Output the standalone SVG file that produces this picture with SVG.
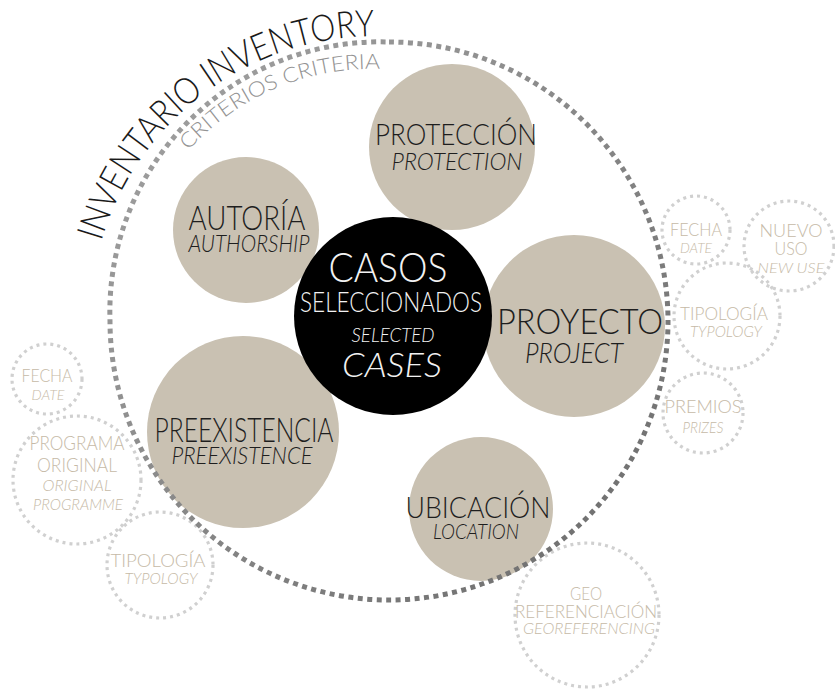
<svg xmlns="http://www.w3.org/2000/svg" width="835" height="690" viewBox="0 0 835 690">
<defs>
<linearGradient id="ringGrad" gradientUnits="userSpaceOnUse" x1="110" y1="42" x2="668" y2="600">
<stop offset="0" stop-color="#a4a4a4"/>
<stop offset="1" stop-color="#6a6a6a"/>
</linearGradient>
<path id="arcInv" d="M101.3,241.5 A287,287 0 0 1 426.3,40.4"/>
<path id="arcCrit" d="M188.3,150.6 A247,247 0 0 1 435.7,77.3"/>
</defs>
<style>
text{font-family:"Lato","Open Sans","Liberation Sans",sans-serif;font-weight:300;text-anchor:middle}
.sm{fill:none;stroke:#d0d0d0;stroke-width:3.2;stroke-dasharray:3 4}
.big{fill:#c9c1b2}
.dk{fill:#1e1e1e}
.wt{fill:#f2f2f2}
.lt{fill:#c6baa7}
.it{font-style:italic}
</style>
<rect width="835" height="690" fill="#ffffff"/>

<g id="fecha-right"><circle class="sm" cx="696" cy="230" r="34"/>
<text class="lt" x="696" y="236" font-size="18" textLength="52" lengthAdjust="spacingAndGlyphs">FECHA</text>
<text class="lt it" x="696" y="253" font-size="14" textLength="32" lengthAdjust="spacingAndGlyphs">DATE</text></g>

<g id="nuevo-uso"><circle class="sm" cx="789" cy="246" r="45"/>
<text class="lt" x="791" y="237" font-size="18" textLength="63" lengthAdjust="spacingAndGlyphs">NUEVO</text>
<text class="lt" x="791" y="255" font-size="18" textLength="33" lengthAdjust="spacingAndGlyphs">USO</text>
<text class="lt it" x="791" y="273" font-size="14" textLength="67" lengthAdjust="spacingAndGlyphs">NEW USE</text></g>

<g id="tipologia-right"><circle class="sm" cx="727" cy="316" r="53"/>
<text class="lt" x="724" y="320" font-size="18" textLength="88" lengthAdjust="spacingAndGlyphs">TIPOLOGÍA</text>
<text class="lt it" x="726" y="337" font-size="15" textLength="72" lengthAdjust="spacingAndGlyphs">TYPOLOGY</text></g>

<g id="premios"><circle class="sm" cx="703" cy="413" r="40"/>
<text class="lt" x="703" y="413" font-size="18" textLength="77" lengthAdjust="spacingAndGlyphs">PREMIOS</text>
<text class="lt it" x="703" y="433" font-size="15" textLength="41" lengthAdjust="spacingAndGlyphs">PRIZES</text></g>

<g id="fecha-left"><circle class="sm" cx="47" cy="379" r="35"/>
<text class="lt" x="47" y="382" font-size="18" textLength="51" lengthAdjust="spacingAndGlyphs">FECHA</text>
<text class="lt it" x="48" y="400" font-size="14" textLength="33" lengthAdjust="spacingAndGlyphs">DATE</text></g>

<g id="programa-original"><circle class="sm" cx="77" cy="480" r="64"/>
<text class="lt" x="77" y="450" font-size="19" textLength="95" lengthAdjust="spacingAndGlyphs">PROGRAMA</text>
<text class="lt" x="77" y="472" font-size="19" textLength="80" lengthAdjust="spacingAndGlyphs">ORIGINAL</text>
<text class="lt it" x="77" y="491" font-size="15" textLength="69" lengthAdjust="spacingAndGlyphs">ORIGINAL</text>
<text class="lt it" x="78" y="510" font-size="15" textLength="90" lengthAdjust="spacingAndGlyphs">PROGRAMME</text></g>

<g id="tipologia-left"><circle class="sm" cx="160" cy="565" r="53"/>
<text class="lt" x="158" y="567" font-size="18" textLength="95" lengthAdjust="spacingAndGlyphs">TIPOLOGÍA</text>
<text class="lt it" x="161" y="584" font-size="15" textLength="73" lengthAdjust="spacingAndGlyphs">TYPOLOGY</text></g>

<g id="georef"><circle class="sm" cx="587" cy="615" r="72"/>
<text class="lt" x="586" y="600" font-size="18" textLength="32" lengthAdjust="spacingAndGlyphs">GEO</text>
<text class="lt" x="586" y="618" font-size="18" textLength="142" lengthAdjust="spacingAndGlyphs">REFERENCIACIÓN</text>
<text class="lt it" x="589" y="634" font-size="15" textLength="132" lengthAdjust="spacingAndGlyphs">GEOREFERENCING</text></g>

<g id="proteccion"><circle class="big" cx="452" cy="147" r="83"/>
<text class="dk" x="456" y="145" font-size="29" textLength="162" lengthAdjust="spacingAndGlyphs">PROTECCIÓN</text>
<text class="dk it" x="457" y="170" font-size="23" textLength="131" lengthAdjust="spacingAndGlyphs">PROTECTION</text></g>

<g id="autoria"><circle class="big" cx="246" cy="230" r="73"/>
<text class="dk" x="247" y="230" font-size="34" textLength="117" lengthAdjust="spacingAndGlyphs">AUTORÍA</text>
<text class="dk it" x="249" y="252" font-size="23" textLength="121" lengthAdjust="spacingAndGlyphs">AUTHORSHIP</text></g>

<g id="proyecto"><circle class="big" cx="574" cy="326" r="91"/>
<text class="dk" x="580" y="334" font-size="35" textLength="166" lengthAdjust="spacingAndGlyphs">PROYECTO</text>
<text class="dk it" x="574" y="363" font-size="27" textLength="98" lengthAdjust="spacingAndGlyphs">PROJECT</text></g>

<g id="preexistencia"><circle class="big" cx="243" cy="432" r="96"/>
<text class="dk" x="244" y="442" font-size="33" textLength="179" lengthAdjust="spacingAndGlyphs">PREEXISTENCIA</text>
<text class="dk it" x="242" y="464" font-size="23" textLength="141" lengthAdjust="spacingAndGlyphs">PREEXISTENCE</text></g>

<g id="ubicacion"><circle class="big" cx="481" cy="509" r="72"/>
<text class="dk" x="478" y="518" font-size="29" textLength="145" lengthAdjust="spacingAndGlyphs">UBICACIÓN</text>
<text class="dk it" x="476" y="539" font-size="21" textLength="86" lengthAdjust="spacingAndGlyphs">LOCATION</text></g>

<g id="casos"><circle fill="#000000" cx="393" cy="316" r="99"/>
<text class="wt" x="388" y="282" font-size="42" textLength="119" lengthAdjust="spacingAndGlyphs">CASOS</text>
<text class="wt" x="391" y="312" font-size="27" textLength="182" lengthAdjust="spacingAndGlyphs">SELECCIONADOS</text>
<text class="wt it" x="393" y="342" font-size="20" textLength="83" lengthAdjust="spacingAndGlyphs">SELECTED</text>
<text class="wt it" x="392" y="377" font-size="34" textLength="100" lengthAdjust="spacingAndGlyphs">CASES</text></g>

<g id="connectors">
<path id="ring" d="M389,42 A279,279 0 1 1 110,321 A270,270 0 0 1 389,42 Z" fill="none" stroke="url(#ringGrad)" stroke-width="5" stroke-dasharray="5 4.5"/>
</g>

<g id="ring-labels">
<text font-size="37" fill="#1a1a1a" style="text-anchor:start"><textPath href="#arcInv" textLength="366" lengthAdjust="spacingAndGlyphs">INVENTARIO INVENTORY</textPath></text>
<text font-size="21" fill="#939393" style="text-anchor:start"><textPath href="#arcCrit" textLength="215" lengthAdjust="spacingAndGlyphs">CRITERIOS CRITERIA</textPath></text>
</g>
</svg>
